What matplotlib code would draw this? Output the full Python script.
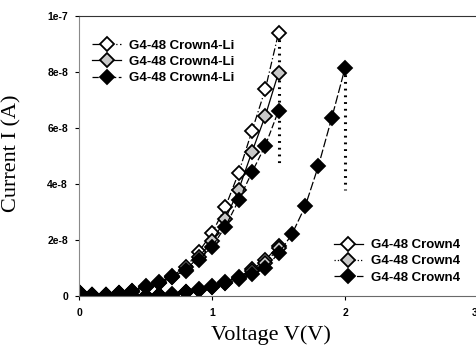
import numpy as np
import matplotlib.pyplot as plt

# Data (current in units of 1e-8 A)

v_li = [0.0, 0.1, 0.2, 0.3, 0.4, 0.5, 0.6, 0.7, 0.8, 0.9, 1.0, 1.1, 1.2, 1.3, 1.4, 1.5]
li_open = [0.15, 0.05, 0.05, 0.12, 0.18, 0.35, 0.5, 0.72, 1.02, 1.58, 2.25, 3.18, 4.4, 5.9, 7.38, 9.4]
li_grey = [0.15, 0.05, 0.05, 0.12, 0.16, 0.33, 0.48, 0.68, 0.92, 1.4, 1.95, 2.75, 3.8, 5.15, 6.43, 7.98]
li_black = [0.15, 0.05, 0.05, 0.12, 0.15, 0.32, 0.46, 0.66, 0.88, 1.27, 1.76, 2.48, 3.42, 4.42, 5.37, 6.62]

v_c4 = [0.0, 0.1, 0.2, 0.3, 0.4, 0.5, 0.6, 0.7, 0.8, 0.9, 1.0, 1.1, 1.2, 1.3, 1.4, 1.5]
c4_open = [0.05, 0.02, 0.02, 0.02, 0.0, 0.0, 0.03, 0.06, 0.15, 0.24, 0.34, 0.5, 0.68, 0.95, 1.28, 1.8]
c4_grey = [0.05, 0.02, 0.02, 0.02, 0.0, 0.0, 0.03, 0.05, 0.14, 0.22, 0.32, 0.47, 0.64, 0.88, 1.18, 1.7]
v_c4b = [0.0, 0.1, 0.2, 0.3, 0.4, 0.5, 0.6, 0.7, 0.8, 0.9, 1.0, 1.1, 1.2, 1.3, 1.4, 1.5,
         1.6, 1.7, 1.8, 1.9, 2.0]
c4_black = [0.05, 0.02, 0.02, 0.02, 0.0, 0.0, 0.03, 0.05, 0.13, 0.21, 0.31, 0.45, 0.6, 0.78, 1.0, 1.52,
            2.2, 3.2, 4.65, 6.36, 8.14]

# dotted breakdown markers: (voltage, top, bottom)
drops = [(1.5, 9.4, 4.7), (2.0, 8.14, 3.8)]

yticks = [0, 2, 4, 6, 8, 10]
ytick_labels = ['0', '2e-8', '4e-8', '6e-8', '8e-8', '1e-7']
xticks = [0, 1, 2, 3]

label_li = 'G4-48 Crown4-Li'
label_c4 = 'G4-48 Crown4'

fig = plt.figure(figsize=(4.77, 3.49), dpi=100)
ax = fig.add_axes([0.166, 0.152, 0.836, 0.802])

ms = 7
grey = '#c8c8c8'

# Li series
l1, = ax.plot(v_li, li_open, color='k', lw=0.9, ls=(0, (6, 2, 1, 2)), marker='D', ms=ms,
              mfc='white', mec='k', mew=1.3, label=label_li)
l2, = ax.plot(v_li, li_grey, color='k', lw=0.9, ls='-', marker='D', ms=ms,
              mfc=grey, mec='k', mew=1.3, label=label_li)
l3, = ax.plot(v_li, li_black, color='k', lw=0.9, ls=(0, (5, 2)), marker='D', ms=ms,
              mfc='k', mec='k', mew=1.3, label=label_li)

# Crown4 series
c1, = ax.plot(v_c4, c4_open, color='k', lw=0.9, ls='-', marker='D', ms=ms,
              mfc='white', mec='k', mew=1.3, label=label_c4)
c2, = ax.plot(v_c4, c4_grey, color='k', lw=0.9, ls=':', marker='D', ms=ms,
              mfc=grey, mec='k', mew=1.3, label=label_c4)
c3, = ax.plot(v_c4b, c4_black, color='k', lw=0.9, ls=(0, (7, 2)), marker='D', ms=ms,
              mfc='k', mec='k', mew=1.3, label=label_c4)

for x, top, bot in drops:
    ax.plot([x, x], [top, bot], color='k', lw=2.2, ls=(0, (0.6, 1.6)), zorder=1)

ax.set_xlim(0, 3)
ax.set_ylim(0, 10)
ax.set_xticks(xticks)
ax.set_yticks(yticks)
ax.set_yticklabels(ytick_labels)
ax.tick_params(axis='both', labelsize=7.5, length=3, width=0.8)
ax.tick_params(axis='x', pad=6)
ax.tick_params(axis='y', pad=5)
for t in ax.get_xticklabels() + ax.get_yticklabels():
    t.set_fontfamily('Liberation Sans')
    t.set_fontweight('bold')
ax.get_xticklabels()[-1].set_horizontalalignment('right')

ax.spines['right'].set_visible(False)
ax.spines['left'].set_color('#8a8a8a')
ax.spines['bottom'].set_color('#6a6a6a')
ax.spines['top'].set_color('#333333')

ax.set_xlabel('Voltage V(V)', fontfamily='Liberation Serif', fontsize=16)
ax.set_ylabel('Current I (A)', fontfamily='Liberation Serif', fontsize=16)
ax.xaxis.set_label_coords(0.48, -0.105)
ax.yaxis.set_label_coords(-0.145, 0.51)

lf = {'family': 'Liberation Sans', 'weight': 'bold', 'size': 9.5}
leg1 = ax.legend(handles=[l1, l2, l3], loc='upper left', bbox_to_anchor=(0.02, 0.935),
                 frameon=False, prop=lf, handlelength=2.2, handletextpad=0.6,
                 labelspacing=0.3, borderaxespad=0)
ax.add_artist(leg1)
ax.legend(handles=[c1, c2, c3], loc='lower left', bbox_to_anchor=(0.625, 0.025),
          frameon=False, prop=lf, handlelength=2.2, handletextpad=0.6,
          labelspacing=0.3, borderaxespad=0)

plt.savefig('out.png', dpi=100)
